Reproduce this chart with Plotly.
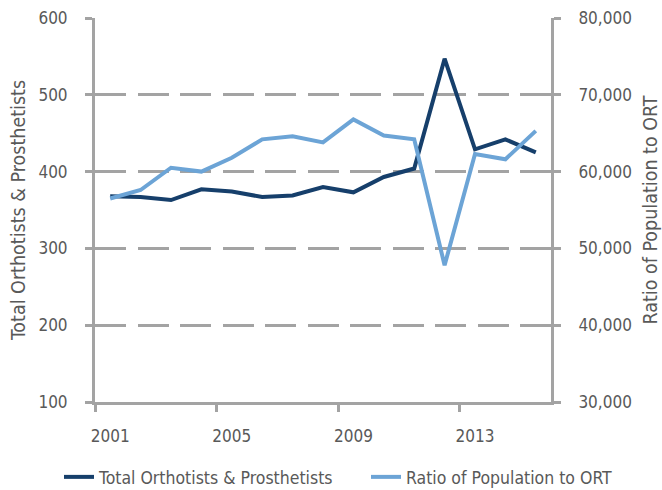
import plotly.graph_objects as go

years = list(range(2001, 2016))
label_years = [2001, 2005, 2009, 2013]

total_ortho_prosth = [368, 367, 363, 377, 374, 367, 369, 380, 373, 393, 404, 547, 429, 442, 425]
ratio_pop_to_ort = [56500, 57600, 60500, 60000, 61800, 64200, 64600, 63800, 66800, 64700, 64200,
                    47800, 62300, 61600, 65300]

name_total = "Total Orthotists & Prosthetists"
name_ratio = "Ratio of Population to ORT"

DARK = "#163F6B"
LIGHT = "#6CA4D6"
AXIS = "#A3A3A3"
TEXT = "#595959"
FONT = "DejaVu Sans Condensed, DejaVu Sans, sans-serif"
TICK_SIZE = 17
TITLE_SIZE = 19.5
LEGEND_SIZE = 17.5

W, H = 662, 490

fig = go.Figure()
fig.add_trace(go.Scatter(x=years, y=total_ortho_prosth, name=name_total, mode="lines",
                         line=dict(color=DARK, width=4), yaxis="y", legend="legend"))
fig.add_trace(go.Scatter(x=years, y=ratio_pop_to_ort, name=name_ratio, mode="lines",
                         line=dict(color=LIGHT, width=4), yaxis="y2", legend="legend2"))

legend_common = dict(orientation="h", xref="container", yref="container",
                     xanchor="left", y=1 - 477 / H, yanchor="middle",
                     font=dict(size=LEGEND_SIZE, color=TEXT, family=FONT), itemwidth=30,
                     bgcolor="rgba(0,0,0,0)", borderwidth=0)

fig.update_layout(
    width=W, height=H,
    margin=dict(l=95, r=111, t=18, b=88, autoexpand=False),
    paper_bgcolor="white", plot_bgcolor="white",
    font=dict(family=FONT, color=TEXT, size=TICK_SIZE),
    xaxis=dict(range=[years[0] - 0.5, years[-1] + 0.5],
               tickmode="array", tickvals=label_years, ticktext=[str(y) for y in label_years],
               ticks="", ticklabelstandoff=17, ticklabeloverflow="allow",
               minor=dict(ticks="outside", tick0=years[0] - 0.5, dtick=4, ticklen=7,
                          tickwidth=3, tickcolor=AXIS, showgrid=False),
               showline=True, linecolor=AXIS, linewidth=3, showgrid=False, zeroline=False,
               automargin=False, tickfont=dict(size=TICK_SIZE, color=TEXT)),
    yaxis=dict(range=[100, 600], tick0=100, dtick=100,
               ticks="outside", ticklen=7, tickwidth=3, tickcolor=AXIS,
               showline=True, linecolor=AXIS, linewidth=3,
               showgrid=True, gridcolor=AXIS, gridwidth=2.5, griddash="31px,11.5px",
               zeroline=False, ticklabelstandoff=14, ticklabeloverflow="allow",
               automargin=False, tickfont=dict(size=TICK_SIZE, color=TEXT),
               title=dict(text=name_total, standoff=8,
                          font=dict(size=TITLE_SIZE, color=TEXT))),
    yaxis2=dict(overlaying="y", side="right", anchor="x",
                range=[30000, 80000], tick0=30000, dtick=10000, tickformat=",",
                ticks="outside", ticklen=7, tickwidth=3, tickcolor=AXIS,
                showline=True, linecolor=AXIS, linewidth=3,
                showgrid=False, zeroline=False, ticklabelstandoff=14,
                ticklabeloverflow="allow", automargin=False,
                tickfont=dict(size=TICK_SIZE, color=TEXT),
                title=dict(text=name_ratio, standoff=13,
                           font=dict(size=TITLE_SIZE, color=TEXT))),
    legend=dict(legend_common, x=59 / W),
    legend2=dict(legend_common, x=366 / W),
    showlegend=True,
)

# remove the browser's default 8px page margin so the figure fills the window exactly
fig.write_html("out.html", config={"displayModeBar": False},
               post_script="document.body.style.margin='0';")
